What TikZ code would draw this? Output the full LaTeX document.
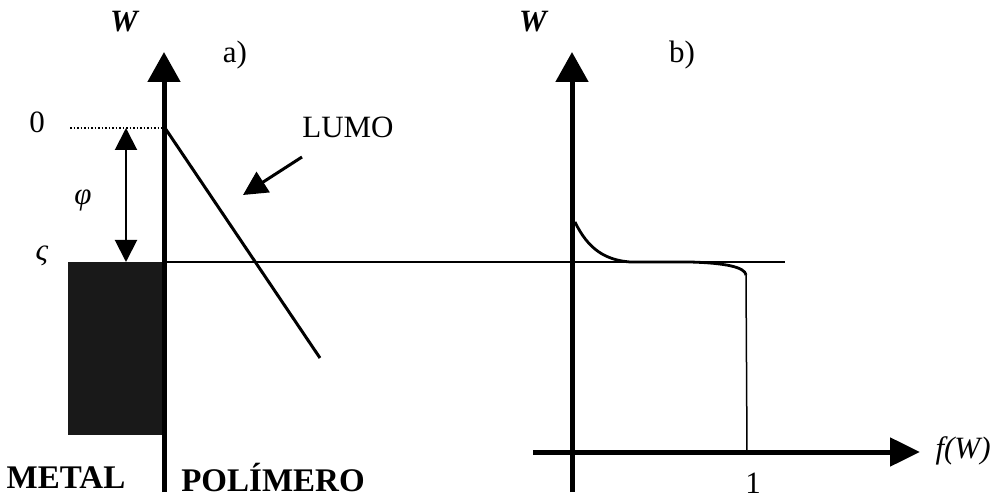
\documentclass[tikz,border=0pt]{standalone}
\usepackage{fontspec}
\setmainfont{Liberation Serif}
\usetikzlibrary{arrows.meta}

\tikzset{
  axisline/.style={line width=5pt,-{Triangle[length=30pt,width=32pt]}},
  txt/.style={font=\fontsize{31}{36}\selectfont},
  captxt/.style={font=\fontsize{33}{36}\selectfont\bfseries},
}

\begin{document}
\begin{tikzpicture}[x=1pt,y=1pt]
	\useasboundingbox (0,0) rectangle (999,501);
	% a) metal -- polymer
	\coordinate (aBot) at (164,9);
	\coordinate (aTop) at (164,449);
	\coordinate (zeroL) at (70,373);
	\coordinate (zeroR) at (164,373);
	\coordinate (fermiL) at (164,239);
	\coordinate (fermiR) at (785,239);
	\coordinate (lumoEnd) at (320,143);
	\fill[black!90] (68,66) rectangle (164,239);
	\draw[line width=1.2pt] (fermiL) -- (fermiR);
	\draw[line width=1.5pt, dotted] (zeroL) -- (zeroR);
	\draw[axisline] (aBot) -- (aTop);
	\draw[line width=3pt] (165,373) -- (lumoEnd);
	\draw[line width=2pt, {Triangle[length=22pt,width=22pt]}-{Triangle[length=22pt,width=22pt]}] (126,373) coordinate (phiTop) -- (126,239) coordinate (phiBot);
	\node[txt] (zeroLbl) at (37,379) {0};
	\node[txt] (fermiLbl) at (42,245) {\itshape ς};
	\node[txt] (phiLbl) at (83,301) {\itshape φ};
	\node[txt, font=\fontsize{31}{36}\selectfont\bfseries\itshape] (wLeft) at (124,479) {W};
	\node[txt] (aLbl) at (235,446) {a)};
	\node[txt] (lumoLbl) at (348,374) {LUMO};
	\coordinate (lumoTail) at (302,344);
	\coordinate (lumoTip) at (243,306);
	\draw[line width=3pt, -{Triangle[length=24pt,width=24pt]}] (lumoTail) -- (lumoTip);
	\node[captxt] (metalLbl) at (66,23) {METAL};
	\node[captxt] (polyLbl) at (273,23) {POLÍMERO};
	% b) Fermi--Dirac distribution
	\coordinate (bBot) at (572,9);
	\coordinate (bTop) at (572,449);
	\coordinate (fLeft) at (533,49);
	\coordinate (fRight) at (920,49);
	\draw[axisline] (bBot) -- (bTop);
	\draw[line width=5pt, -{Triangle[length=30pt,width=28pt]}] (fLeft) -- (fRight);
	\draw[line width=2.8pt] (575,279) .. controls (588,252) and (605,241) .. (630,239)
		-- (690,239) .. controls (725,238) and (745,234) .. (746,226) coordinate (fCorner);
	\draw[line width=1.5pt] (fCorner) -- (747,49) coordinate (fOne);
	\node[txt, font=\fontsize{31}{36}\selectfont\bfseries\itshape] (wRight) at (533,479) {W};
	\node[txt] (bLbl) at (682,446) {b)};
	\node[txt, anchor=west] (fLbl) at (932,50) {\itshape f(W)};
	\node[txt] (oneLbl) at (753,18) {1};
\end{tikzpicture}
\end{document}
